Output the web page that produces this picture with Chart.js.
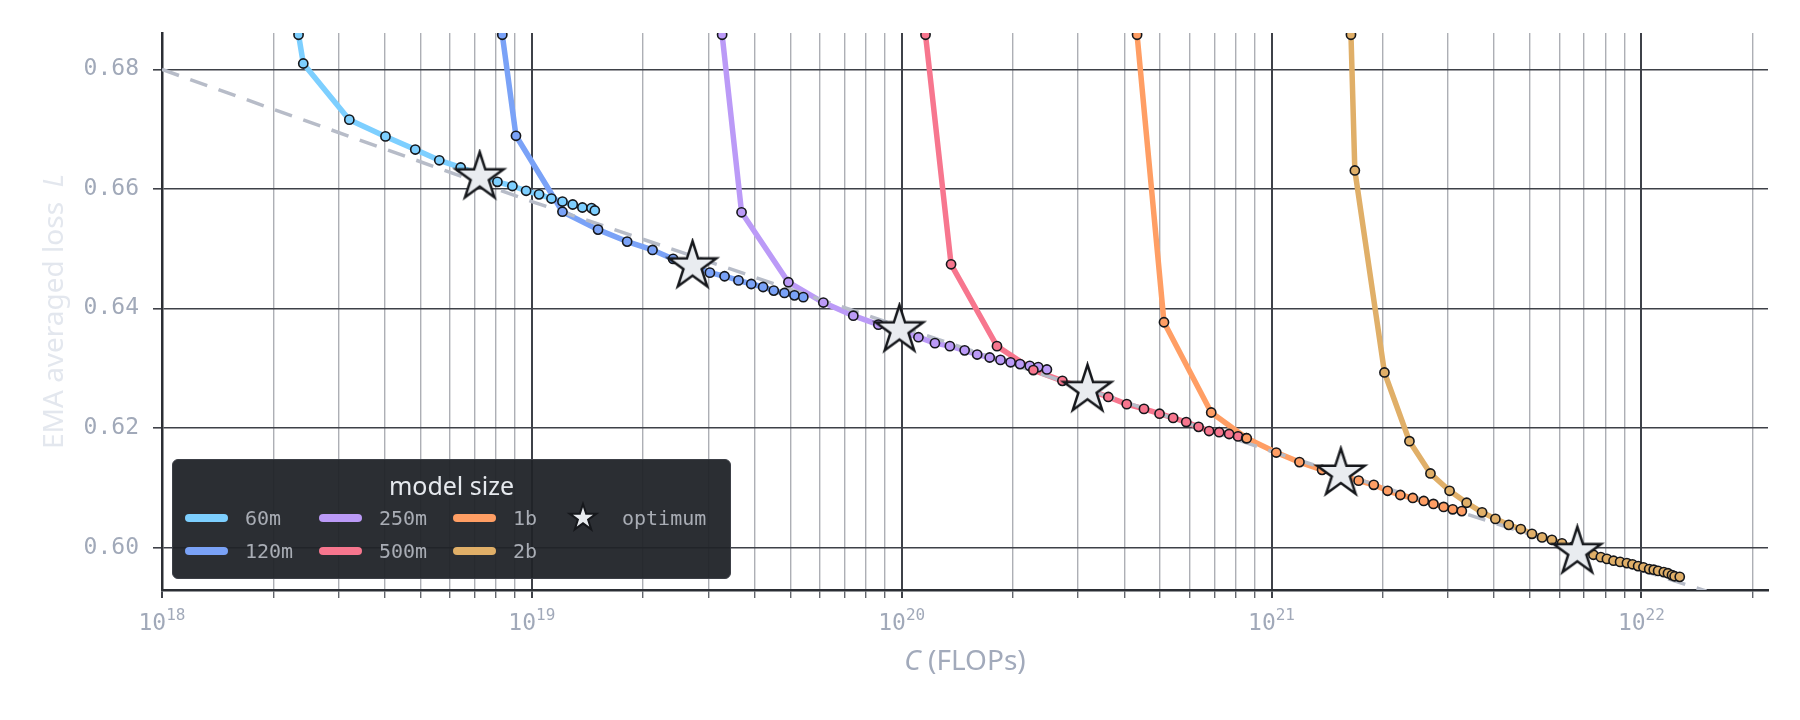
<!DOCTYPE html>
<html>
<head>
<meta charset="utf-8">
<script src="https://cdn.jsdelivr.net/npm/chart.js@4.4.1/dist/chart.umd.min.js"></script>
<style>
  html, body { margin: 0; padding: 0; background: #fff; }
  #wrap { position: relative; width: 1800px; height: 720px; }
  #legend { position: absolute; left: 172px; top: 459px; width: 559px; height: 120px; box-sizing: border-box;
    background: rgba(32, 35, 40, 0.95); border: 1px solid #3c3f46; border-radius: 6px; }
  #legend .title { position: absolute; left: 0; right: 0; top: 8px; line-height: 32px; text-align: center;
    font: 25px "Noto Sans"; color: #e6e9ee; }
  #legend .item { position: absolute; height: 30px; display: flex; align-items: center; }
  #legend .swatch { width: 43px; height: 8px; border-radius: 4px; }
  #legend .label { font: 20px "DejaVu Sans Mono"; color: #a9adb5; margin-left: 17px; white-space: pre; }
</style>
</head>
<body>
<div id="wrap">
  <canvas id="scalingChart" width="1800" height="720"></canvas>
  <div id="legend"></div>
</div>
<script>
// model sizes and their colours
var sizes = ["60m", "120m", "250m", "500m", "1b", "2b"];
var colors = ["#7dcfff", "#7aa2f7", "#bb9af7", "#f7768e", "#ff9e64", "#e0af68"];

// compute C (FLOPs) and EMA loss, one pair of arrays per model
var flops60m = [2.30e18, 2.34e18, 2.41e18, 3.21e18, 4.02e18, 4.84e18, 5.62e18, 6.42e18, 7.18e18, 8.07e18,
  8.86e18, 9.65e18, 1.046e19, 1.13e19, 1.21e19, 1.29e19, 1.37e19, 1.45e19, 1.48e19];
var loss60m = [0.750, 0.6858, 0.6810, 0.6716, 0.6688, 0.6666, 0.6648, 0.6636, 0.6625, 0.6612,
  0.6605, 0.6597, 0.6591, 0.6584, 0.6579, 0.6574, 0.6569, 0.6568, 0.6564];

var flops120m = [8.20e18, 8.32e18, 9.06e18, 1.21e19, 1.51e19, 1.81e19, 2.12e19, 2.41e19, 2.70e19, 3.03e19,
  3.32e19, 3.62e19, 3.92e19, 4.22e19, 4.51e19, 4.82e19, 5.13e19, 5.42e19];
var loss120m = [0.750, 0.6858, 0.6689, 0.6562, 0.6532, 0.6512, 0.6498, 0.6483, 0.6471, 0.6460,
  0.6454, 0.6447, 0.6441, 0.6436, 0.6430, 0.6426, 0.6422, 0.6419];

var flops250m = [3.20e19, 3.27e19, 3.69e19, 4.94e19, 6.14e19, 7.40e19, 8.65e19, 9.82e19, 1.11e20, 1.23e20,
  1.35e20, 1.48e20, 1.60e20, 1.73e20, 1.85e20, 1.97e20, 2.09e20, 2.22e20, 2.34e20, 2.47e20];
var loss250m = [0.750, 0.6858, 0.6561, 0.6444, 0.6410, 0.6388, 0.6373, 0.6362, 0.6352, 0.6342,
  0.6337, 0.6330, 0.6323, 0.6318, 0.6314, 0.6310, 0.6307, 0.6304, 0.6302, 0.6298];

var flops500m = [1.14e20, 1.16e20, 1.36e20, 1.81e20, 2.27e20, 2.72e20, 3.14e20, 3.62e20, 4.06e20, 4.52e20,
  4.98e20, 5.42e20, 5.88e20, 6.35e20, 6.78e20, 7.22e20, 7.68e20, 8.12e20, 8.54e20];
var loss500m = [0.750, 0.6858, 0.6474, 0.6337, 0.6297, 0.6279, 0.6265, 0.6252, 0.6240, 0.6232,
  0.6224, 0.6217, 0.6210, 0.6202, 0.6195, 0.6193, 0.6190, 0.6186, 0.6183];

var flops1b = [4.25e20, 4.33e20, 5.12e20, 6.87e20, 8.57e20, 1.03e21, 1.19e21, 1.37e21, 1.53e21, 1.72e21,
  1.89e21, 2.06e21, 2.23e21, 2.41e21, 2.58e21, 2.74e21, 2.92e21, 3.09e21, 3.27e21];
var loss1b = [0.750, 0.6858, 0.6377, 0.6226, 0.6183, 0.6159, 0.6143, 0.6130, 0.6121, 0.6112,
  0.6105, 0.6095, 0.6088, 0.6083, 0.6078, 0.6073, 0.6068, 0.6064, 0.6061];

var flops2b = [1.62e21, 1.64e21, 1.68e21, 2.02e21, 2.36e21, 2.69e21, 3.03e21, 3.37e21, 3.71e21, 4.03e21,
  4.38e21, 4.72e21, 5.06e21, 5.39e21, 5.73e21, 6.10e21, 6.52e21, 6.95e21, 7.42e21, 7.77e21,
  8.07e21, 8.41e21, 8.76e21, 9.14e21, 9.46e21, 9.80e21, 1.013e22, 1.05e22, 1.08e22, 1.11e22,
  1.15e22, 1.18e22, 1.21e22, 1.23e22, 1.27e22];
var loss2b = [0.750, 0.6858, 0.6631, 0.6293, 0.6178, 0.6124, 0.6095, 0.6075, 0.6059, 0.6048,
  0.6038, 0.6031, 0.6023, 0.6017, 0.6013, 0.6007, 0.6001, 0.5995, 0.5988, 0.5984,
  0.5981, 0.5978, 0.5976, 0.5974, 0.5972, 0.5969, 0.5967, 0.5964, 0.5963, 0.5961,
  0.5959, 0.5957, 0.5954, 0.5952, 0.5951];

// compute-optimal points (stars)
var optimumFlops = [7.23e18, 2.72e19, 9.86e19, 3.18e20, 1.54e21, 6.71e21];
var optimumLoss = [0.6620, 0.6471, 0.6364, 0.6264, 0.6124, 0.5993];

// dashed frontier fit, read at a few places along the line
var fitFlops = [1e18, 1e19, 1e20, 1e21, 1e22, 1.5e22];
var fitLoss = [0.6800, 0.6579, 0.6369, 0.6161, 0.5962, 0.5927];

// axis ticks
var xTickExponents = [18, 19, 20, 21, 22];
var yTicks = [0.60, 0.62, 0.64, 0.66, 0.68];

var seriesFlops = [flops60m, flops120m, flops250m, flops500m, flops1b, flops2b];
var seriesLoss = [loss60m, loss120m, loss250m, loss500m, loss1b, loss2b];

var tickColor = "#a1a9b9";
var majorGrid = "#3e4148";
var minorGrid = "#adafb5";

function makeStar(r, lw) {
  var size = Math.ceil(2 * r + 2 * lw + 2);
  var c = document.createElement("canvas");
  c.width = size;
  c.height = size;
  var g = c.getContext("2d");
  g.beginPath();
  for (var i = 0; i < 10; i++) {
    var a = -Math.PI / 2 + i * Math.PI / 5;
    var rr = i % 2 ? r * 0.382 : r;
    g.lineTo(size / 2 + rr * Math.cos(a), size / 2 + rr * Math.sin(a));
  }
  g.closePath();
  g.fillStyle = "#e9ecf0";
  g.fill();
  g.lineWidth = lw;
  g.lineJoin = "miter";
  g.strokeStyle = "#16181c";
  g.stroke();
  return c;
}

function toPoints(xs, ys) {
  return xs.map(function (x, j) { return { x: x, y: ys[j] }; });
}

function isIntMantissa(v) {
  var m = v / Math.pow(10, Math.floor(Math.log10(v) + 1e-9));
  return Math.abs(m - Math.round(m)) < 1e-6;
}
function isDecade(v) {
  var e = Math.log10(v);
  return Math.abs(e - Math.round(e)) < 1e-6;
}

var datasets = [];
sizes.forEach(function (name, i) {
  var pts = toPoints(seriesFlops[i], seriesLoss[i]);
  datasets.push({
    label: name,
    data: pts,
    showLine: true,
    borderColor: colors[i],
    borderWidth: 5.5,
    borderJoinStyle: "round",
    borderCapStyle: "round",
    pointRadius: 0,
    order: 50 - i,
    clip: 0
  });
  datasets.push({
    label: name + " points",
    data: pts,
    showLine: false,
    pointRadius: 4.6,
    pointBorderWidth: 1.6,
    pointBackgroundColor: colors[i],
    pointBorderColor: "#15171b",
    order: 20 - i,
    clip: 0
  });
});

datasets.push({
  label: "fit",
  data: toPoints(fitFlops, fitLoss),
  showLine: true,
  borderColor: "#b7bcc8",
  borderWidth: 3.5,
  borderDash: [18, 12],
  pointRadius: 0,
  order: 30,
  clip: 0
});

var starImg = makeStar(25, 2.5);
datasets.push({
  label: "optimum",
  data: toPoints(optimumFlops, optimumLoss),
  showLine: false,
  pointStyle: starImg,
  pointRadius: 25,
  order: 0,
  clip: 0
});

// x tick labels with superscripts and the two axis titles
function drawParts(ctx, parts, x, y, size) {
  var total = 0;
  parts.forEach(function (p) {
    ctx.font = (p[0] ? "italic " : "") + size + 'px "Noto Sans"';
    p.w = ctx.measureText(p[1]).width;
    total += p.w;
  });
  var cx = x - total / 2;
  parts.forEach(function (p) {
    ctx.font = (p[0] ? "italic " : "") + size + 'px "Noto Sans"';
    ctx.fillText(p[1], cx, y);
    cx += p.w;
  });
}

var axisText = {
  id: "axisText",
  afterDraw: function (chart) {
    var ctx = chart.ctx;
    var xs = chart.scales.x;
    var area = chart.chartArea;
    ctx.save();
    ctx.textBaseline = "alphabetic";
    ctx.textAlign = "left";
    ctx.fillStyle = tickColor;
    xTickExponents.forEach(function (e) {
      var px = xs.getPixelForValue(Math.pow(10, e));
      ctx.font = '23px "DejaVu Sans Mono"';
      var wb = ctx.measureText("10").width;
      ctx.font = '16px "DejaVu Sans Mono"';
      var we = ctx.measureText(String(e)).width;
      var start = px - (wb + we) / 2;
      ctx.font = '23px "DejaVu Sans Mono"';
      ctx.fillText("10", start, 630);
      ctx.font = '16px "DejaVu Sans Mono"';
      ctx.fillText(String(e), start + wb, 620);
    });

    ctx.fillStyle = "#a2aabb";
    drawParts(ctx, [[true, "C"], [false, " (FLOPs)"]], (area.left + area.right) / 2, 670, 28);

    ctx.translate(63, (area.top + area.bottom) / 2);
    ctx.rotate(-Math.PI / 2);
    ctx.fillStyle = "#e3e7ee";
    drawParts(ctx, [[false, "EMA averaged loss  "], [true, "L"]], 0, 0, 28);
    ctx.restore();
  }
};

new Chart(document.getElementById("scalingChart"), {
  type: "scatter",
  data: { datasets: datasets },
  options: {
    responsive: false,
    devicePixelRatio: 1,
    animation: false,
    layout: { padding: { top: 33, right: 32, left: 0, bottom: 0 } },
    plugins: { legend: { display: false }, tooltip: { enabled: false } },
    scales: {
      x: {
        type: "logarithmic",
        min: 1e18,
        max: 2.2e22,
        afterBuildTicks: function (s) {
          s.ticks = s.ticks.filter(function (t) { return isIntMantissa(t.value); });
        },
        afterFit: function (s) { s.height = 130; },
        ticks: { display: false, autoSkip: false },
        grid: {
          color: function (c) { return c.tick && isDecade(c.tick.value) ? majorGrid : minorGrid; },
          lineWidth: function (c) { return c.tick && isDecade(c.tick.value) ? 2 : 1.4; },
          tickColor: function (c) { return c.tick && isDecade(c.tick.value) ? majorGrid : "#62656c"; },
          tickLength: 8
        },
        border: { color: "#2b2e34", width: 2.5 }
      },
      y: {
        min: 0.5929,
        max: 0.6861,
        afterBuildTicks: function (s) {
          s.ticks = yTicks.map(function (v) { return { value: v }; });
        },
        afterFit: function (s) { s.width = 162; },
        ticks: {
          color: tickColor,
          padding: 14,
          font: { family: "DejaVu Sans Mono", size: 23 },
          callback: function (v) { return Number(v).toFixed(2); }
        },
        grid: { color: majorGrid, lineWidth: 1.6, tickLength: 9, tickColor: majorGrid },
        border: { color: "#2b2e34", width: 2.5 }
      }
    }
  },
  plugins: [axisText]
});

// legend box laid out like the reference: two rows, column by column
var legend = document.getElementById("legend");
var title = document.createElement("div");
title.className = "title";
title.textContent = "model size";
legend.appendChild(title);
var rowTops = [43, 76];
sizes.forEach(function (name, i) {
  var item = document.createElement("div");
  item.className = "item";
  item.style.left = (12 + Math.floor(i / 2) * 134) + "px";
  item.style.top = rowTops[i % 2] + "px";
  var sw = document.createElement("span");
  sw.className = "swatch";
  sw.style.background = colors[i];
  var lb = document.createElement("span");
  lb.className = "label";
  lb.textContent = name;
  item.appendChild(sw);
  item.appendChild(lb);
  legend.appendChild(item);
});
var starItem = document.createElement("div");
starItem.className = "item";
var smallStar = makeStar(14, 2);
starItem.style.left = (410 - smallStar.width / 2) + "px";
starItem.style.top = (rowTops[0] + 15 - smallStar.height / 2) + "px";
starItem.style.height = smallStar.height + "px";
starItem.appendChild(smallStar);
var starLabel = document.createElement("span");
starLabel.className = "label";
starLabel.style.marginLeft = (449 - 410 - smallStar.width / 2) + "px";
starLabel.textContent = "optimum";
starItem.appendChild(starLabel);
legend.appendChild(starItem);
</script>
</body>
</html>
